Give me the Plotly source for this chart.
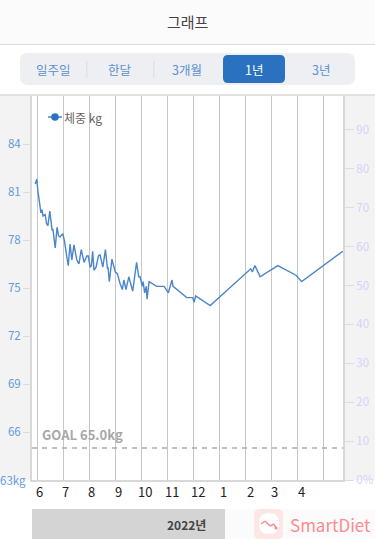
import plotly.graph_objects as go

W, H = 375, 539
# month position: 0 = June 2021 gridline, 1 = July ...
months_pos = [-0.08,-0.02,0.02,0.10,0.14,0.18,0.22,0.30,0.36,0.41,0.48,0.57,0.60,0.69,0.76,0.82,0.88,0.98,1.05,1.13,1.19,1.26,1.33,1.41,1.52,1.60,1.69,1.80,1.90,1.96,2.03,2.08,2.13,2.18,2.26,2.35,2.41,2.52,2.62,2.70,2.72,2.77,2.87,3.00,3.08,3.18,3.27,3.33,3.41,3.52,3.67,3.76,3.82,3.90,3.95,4.04,4.07,4.13,4.19,4.22,4.30,4.59,4.88,5.04,5.18,5.22,5.75,5.98,6.03,6.09,6.65,8.21,8.27,8.37,8.57,9.25,9.95,10.17,11.75]
weight_kg = [81.5,81.8,81.1,79.9,79.7,79.9,79.5,79.6,79.0,78.9,79.8,78.6,78.7,77.5,78.8,78.25,78.2,78.4,77.9,77.0,76.4,77.75,76.75,77.7,76.75,76.5,77.4,76.6,77.0,77.0,76.3,76.4,77.3,76.1,76.3,77.0,77.1,76.3,77.4,76.2,76.3,75.4,76.8,76.0,75.9,75.3,74.9,75.5,74.9,75.7,74.8,75.9,76.6,75.7,75.7,75.1,75.4,74.7,75.1,74.3,75.4,75.1,75.1,74.7,75.5,75.1,74.4,74.4,74.1,74.5,73.9,76.2,76.0,76.4,75.7,76.4,75.8,75.4,77.3]
goal_kg = [65, 65]
goal_x = [-0.204, 11.758]
left_ticks = [66, 69, 72, 75, 78, 81, 84]
left_labels = ["66", "69", "72", "75", "78", "81", "84"]
right_ticks = [0, 10, 20, 30, 40, 50, 60, 70, 80, 90]
right_labels = ["0%", "10", "20", "30", "40", "50", "60", "70", "80", "90"]
grid_pos = list(range(12))
month_labels = ["6", "7", "8", "9", "10", "11", "12", "1", "2", "3", "4"]
month_label_pos = [0.09, 1.09, 2.1, 3.13, 4.13, 5.17, 6.17, 7.17, 8.2, 9.13, 10.17]
tabs = ["일주일", "한달", "3개월", "1년", "3년"]
tab_x = [53, 120, 187, 254, 321]

FONT = "Noto Sans CJK KR"
BLUE = "#4a86c8"

def rrect(x0, y0, x1, y1, r, fill):
    yt = lambda v: 1 - v / H
    xt = lambda v: v / W
    rx, ry = r / W, r / H
    a, b, c, d = xt(x0), xt(x1), yt(y0), yt(y1)
    p = (f"M {a+rx} {c} L {b-rx} {c} Q {b} {c} {b} {c-ry} L {b} {d+ry} Q {b} {d} {b-rx} {d} "
         f"L {a+rx} {d} Q {a} {d} {a} {d+ry} L {a} {c-ry} Q {a} {c} {a+rx} {c} Z")
    return dict(type="path", path=p, xref="paper", yref="paper", fillcolor=fill, line_width=0, layer="below")

def box(x0, y0, x1, y1, fill, layer="below"):
    return dict(type="rect", xref="paper", yref="paper", x0=x0/W, x1=x1/W, y0=1-y1/H, y1=1-y0/H,
                fillcolor=fill, line_width=0, layer=layer)

def seg(x0, y0, x1, y1, color, width):
    return dict(type="line", xref="paper", yref="paper", x0=x0/W, x1=x1/W, y0=1-y0/H, y1=1-y1/H,
                line=dict(color=color, width=width), layer="above")

def dot(cx, cy, r, fill):
    return dict(type="circle", xref="paper", yref="paper", x0=(cx-r)/W, x1=(cx+r)/W, y0=1-(cy+r)/H, y1=1-(cy-r)/H,
                fillcolor=fill, line_width=0, layer="above")

def txt(x, y, s, size, color, anchor="center", weight=None):
    return dict(x=x/W, y=1-y/H, xref="paper", yref="paper", text=s, showarrow=False,
                xanchor=anchor, yanchor="middle",
                font=dict(size=size, color=color, family=FONT, weight=weight))

fig = go.Figure()
fig.add_trace(go.Scatter(x=goal_x, y=goal_kg, mode="lines", showlegend=False, hoverinfo="skip",
                         line=dict(color="#aaaaaa", width=1.5, dash="5px,5px")))
fig.add_trace(go.Scatter(x=months_pos, y=weight_kg, mode="lines", showlegend=False, name="체중 kg",
                         line=dict(color=BLUE, width=1.4)))
fig.add_trace(go.Scatter(x=[None], y=[None], yaxis="y2", showlegend=False))

shapes = [
    box(0, 0, 375, 44, "#fbfbfb"),
    box(0, 44, 375, 45, "#dcdcdc"),
    rrect(20, 53, 355, 85, 8, "#eeeff3"),
    rrect(223, 55, 285, 83, 5, "#2a72c0"),
    box(86.5, 61, 87.3, 78, "#d4d5d9"),
    box(153.5, 61, 154.3, 78, "#d4d5d9"),
    box(0, 94, 375, 96, "#e2e2e2"),
    box(0, 96, 32, 480, "#f3f3f3"),
    box(343, 96, 375, 480, "#f3f3f3"),
    box(32, 509, 225, 539, "#d4d4d4"),
    box(225, 509, 375, 539, "#fbfbfb"),
    rrect(254, 509, 283, 539, 6, "#ffe6e6"),
    rrect(259, 513, 279, 534, 10, "#ffffff"),
    seg(48, 117, 62, 117, BLUE, 1.5),
    dot(55, 117, 3.8, "#2a72c0"),
    seg(261, 524, 265, 521, "#ff8a8f", 1.5),
    seg(265, 521, 270, 526, "#ff8a8f", 1.5),
    seg(270, 526, 274, 524, "#ff8a8f", 1.5),
    seg(274, 524, 276, 528, "#ff8a8f", 1.5),
    dot(276, 528, 1.6, "#ff8a8f"),
]
annotations = [txt(187.5, 21, "그래프", 15, "#444444"), txt(62, 117, "체중 kg", 12, "#666666", "left")]
for t, x in zip(tabs, tab_x):
    annotations.append(txt(x, 69, t, 12.5, "#ffffff" if t == "1년" else "#5b92d0"))
for lab, p in zip(month_labels, month_label_pos):
    annotations.append(dict(x=p, y=(H-491)/H, xref="x", yref="paper", text=lab, showarrow=False,
                            yanchor="middle", font=dict(size=13, color="#222222", family=FONT)))
annotations += [
    txt(40, 434, "GOAL 65.0kg", 13, "#a8a8a8", "left", 700),
    txt(208, 524, "2022년", 12, "#444444", "right", 700),
    txt(288, 524, "SmartDiet", 17, "#ff8a8f", "left"),
    txt(28, 480, "63kg", 11.5, "#5f9bdd", "right"),
]

fig.update_layout(
    width=W, height=H, autosize=False, margin=dict(l=0, r=0, t=0, b=0),
    paper_bgcolor="#ffffff", plot_bgcolor="#ffffff", showlegend=False,
    font=dict(family=FONT),
    shapes=shapes, annotations=annotations,
    xaxis=dict(domain=[32/W, 343/W], range=[-0.204, 11.758], tickvals=grid_pos, showticklabels=False, automargin=False,
               ticks="", showgrid=True, gridcolor="#c6c6c6", gridwidth=1.3, zeroline=False,
               showline=True, linecolor="#d8d8d8", linewidth=2),
    yaxis=dict(domain=[(H-480)/H, (H-96)/H], range=[63, 87], tickvals=left_ticks, ticktext=left_labels, automargin=False,
               ticks="outside", ticklen=7, tickcolor="#dddddd", showgrid=False, zeroline=False,
               showline=True, linecolor="#d8d8d8", linewidth=2,
               tickfont=dict(size=11.5, color="#5f9bdd", family=FONT)),
    yaxis2=dict(overlaying="y", side="right", anchor="x", range=[0, 98.7], tickvals=right_ticks, ticktext=right_labels, automargin=False,
                ticks="outside", ticklen=9, tickcolor="#dddddd", showgrid=False, zeroline=False,
                showline=True, linecolor="#d8d8d8", linewidth=2,
                tickfont=dict(size=11.5, color="#d9cffb", family=FONT)),
)
fig.write_html("out.html", config=dict(displayModeBar=False, responsive=False),
               post_script="document.body.style.margin='0';document.body.style.overflow='hidden';document.documentElement.style.overflow='hidden';")
